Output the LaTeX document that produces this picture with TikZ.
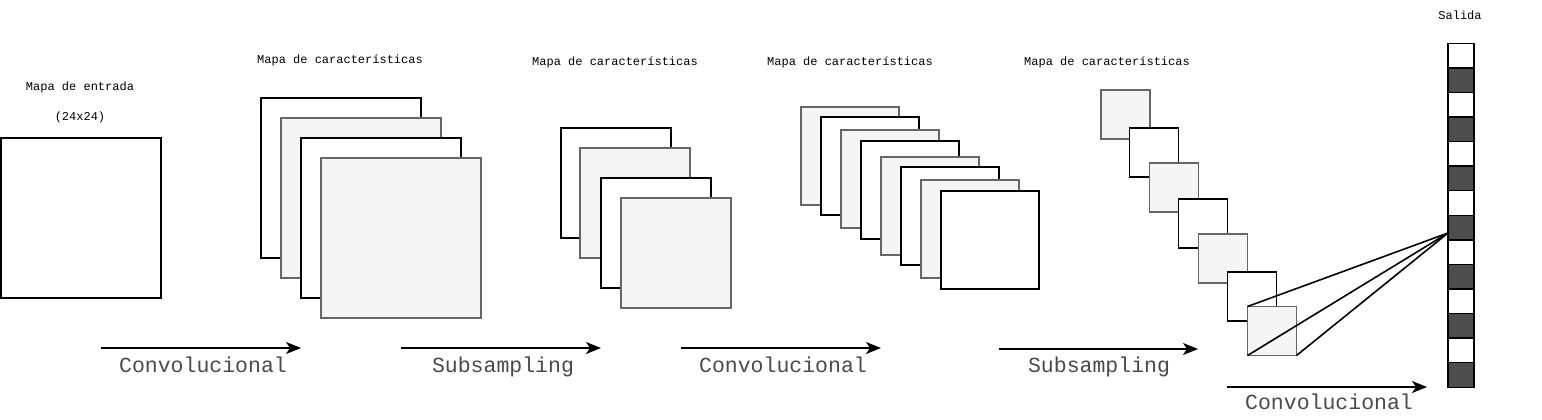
\documentclass[tikz,border=0pt]{standalone}
\usepackage{fontspec}
\newfontfamily\cour{Liberation Mono}
\usetikzlibrary{arrows.meta,calc}
\definecolor{lgray}{HTML}{F5F5F5}
\definecolor{mgray}{HTML}{666666}
\definecolor{dgray}{HTML}{4D4D4D}
\definecolor{tgray}{HTML}{4A4A4A}
\begin{document}
\begin{tikzpicture}[x=1pt,y=-1pt,
  fmw/.style={draw=black,fill=white,line width=1.6pt,anchor=north west,inner sep=0pt,outer sep=0pt},
  fmg/.style={draw=mgray,fill=lgray,line width=1.6pt,anchor=north west,inner sep=0pt,outer sep=0pt},
  big/.style={minimum width=160pt,minimum height=160pt},
  mid/.style={minimum width=110pt,minimum height=110pt},
  sml/.style={minimum width=98pt,minimum height=98pt},
  tny/.style={minimum width=49pt,minimum height=49pt},
  cellw/.style={draw=black,fill=white,line width=1.4pt,minimum width=26pt,minimum height=24.57pt,anchor=north west,inner sep=0pt,outer sep=0pt},
  celld/.style={draw=black,fill=dgray,line width=1.4pt,minimum width=26pt,minimum height=24.57pt,anchor=north west,inner sep=0pt,outer sep=0pt},
  small/.style={font=\cour\fontsize{12}{14}\selectfont,text=black,inner sep=0pt,anchor=base},
  opl/.style={font=\cour\fontsize{21.5}{24}\selectfont,text=tgray,inner sep=0pt,anchor=base},
  flow/.style={line width=1.6pt,-{Stealth[length=15pt,width=12pt,inset=4pt]}},
  conn/.style={line width=1.6pt}]
\useasboundingbox (0,0) rectangle (1542,420);

% input
\node[small] (lin1) at (80,90.5) {Mapa de entrada};
\node[small] (lin2) at (80,120.5) {(24x24)};
\node[fmw,big] (in) at (1,138) {};

% conv feature maps 1
\node[small] (l1) at (340,63.5) {Mapa de características};
\node[fmw,big] (a1) at (261,98) {};
\node[fmg,big] (a2) at (281,118) {};
\node[fmw,big] (a3) at (301,138) {};
\node[fmg,big] (a4) at (321,158) {};

% subsampling maps
\node[small] (l2) at (615,65.5) {Mapa de características};
\node[fmw,mid] (b1) at (561,128) {};
\node[fmg,mid] (b2) at (580,148) {};
\node[fmw,mid] (b3) at (601,178) {};
\node[fmg,mid] (b4) at (621,198) {};

% conv feature maps 2
\node[small] (l3) at (850,65.5) {Mapa de características};
\node[fmg,sml] (c1) at (801,107) {};
\node[fmw,sml] (c2) at (821,117) {};
\node[fmg,sml] (c3) at (841,130) {};
\node[fmw,sml] (c4) at (861,141) {};
\node[fmg,sml] (c5) at (881,157) {};
\node[fmw,sml] (c6) at (901,167) {};
\node[fmg,sml] (c7) at (921,180) {};
\node[fmw,sml] (c8) at (941,191) {};

% subsampling maps 2
\node[small] (l4) at (1107,65.5) {Mapa de características};
\node[fmg,tny] (d1) at (1101,90) {};
\node[fmw,tny] (d2) at (1129.5,128) {};
\node[fmg,tny] (d3) at (1149.5,163) {};
\node[fmw,tny] (d4) at (1178.5,199) {};
\node[fmg,tny] (d5) at (1198.5,234) {};
\node[fmw,tny] (d6) at (1227.5,272) {};
\node[fmg,tny] (d7) at (1247.5,306.5) {};

% output
\node[small] (lout) at (1460,19.5) {Salida};
\foreach \i in {0,...,13}{
  \pgfmathtruncatemacro{\odd}{mod(\i,2)}
  \ifnum\odd=0
    \node[cellw] (o\i) at (1448,43.3+\i*24.57) {};
  \else
    \node[celld] (o\i) at (1448,43.3+\i*24.57) {};
  \fi
}
\coordinate (hub) at (1448,233);
\draw[conn] (d7.north west) -- (hub);
\draw[conn] (d7.south west) -- (hub);
\draw[conn] (d7.south east) -- (hub);

% flow arrows
\coordinate (f1s) at (101,348); \coordinate (f1e) at (301,348);
\coordinate (f2s) at (401,348); \coordinate (f2e) at (601,348);
\coordinate (f3s) at (681,348); \coordinate (f3e) at (881,348);
\coordinate (f4s) at (999,349); \coordinate (f4e) at (1198,349);
\coordinate (f5s) at (1227,387); \coordinate (f5e) at (1427,387);
\draw[flow] (f1s) -- (f1e);
\draw[flow] (f2s) -- (f2e);
\draw[flow] (f3s) -- (f3e);
\draw[flow] (f4s) -- (f4e);
\draw[flow] (f5s) -- (f5e);
\node[opl] (t1) at (203,372) {Convolucional};
\node[opl] (t2) at (503,372) {Subsampling};
\node[opl] (t3) at (783,372) {Convolucional};
\node[opl] (t4) at (1099,372) {Subsampling};
\node[opl] (t5) at (1329,409) {Convolucional};
\end{tikzpicture}
\end{document}
